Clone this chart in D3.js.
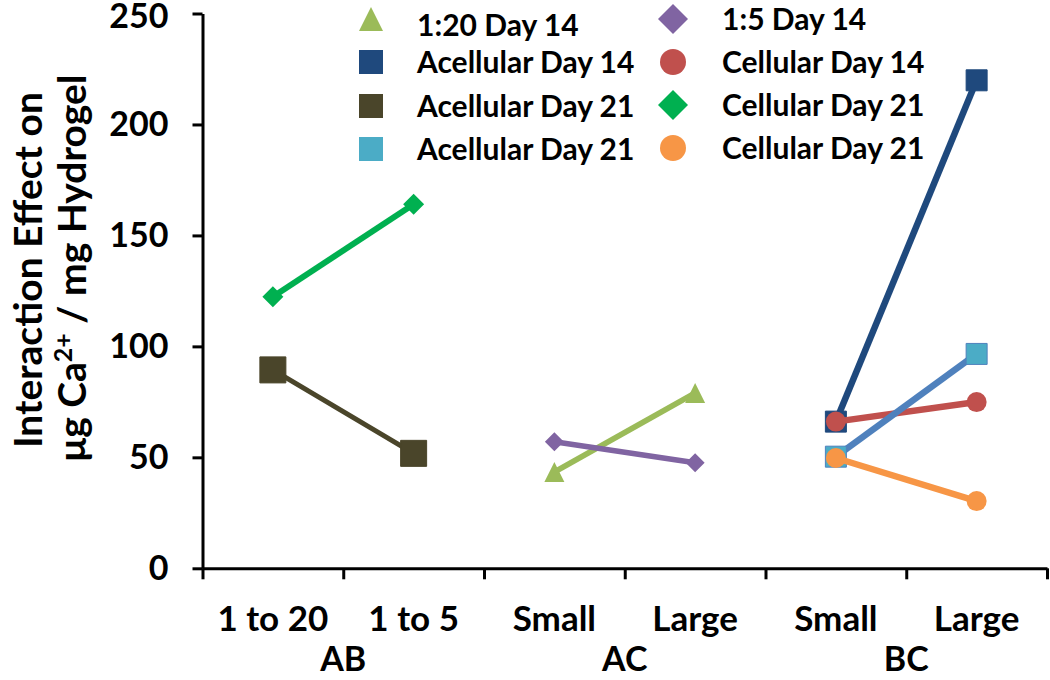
<!DOCTYPE html>
<html>
<head>
<meta charset="utf-8">
<script src="https://cdn.jsdelivr.net/npm/d3@7"></script>
<style>
  html, body { margin: 0; padding: 0; background: #fff; }
  svg { display: block; font-family: Lato, "Open Sans", sans-serif; font-weight: bold; }
</style>
</head>
<body>
<svg id="chart" width="1050" height="680"></svg>
<script>
// ---------- data ----------
const categories = ["1 to 20", "1 to 5", "Small", "Large", "Small", "Large"];
const groups = ["AB", "AC", "BC"];
const yTicks = [0, 50, 100, 150, 200, 250];

const seriesNames = [
  "1:20 Day 14", "1:5 Day 14", "Acellular Day 14", "Cellular Day 14",
  "Acellular Day 21", "Cellular Day 21", "Acellular Day 21", "Cellular Day 21"
];
// category index pairs for each series
const seriesCats = [[2, 3], [2, 3], [4, 5], [4, 5], [0, 1], [0, 1], [4, 5], [4, 5]];
const v_1to20Day14      = [43.4, 79.0];
const v_1to5Day14       = [57.0, 47.6];
const v_acellularDay14  = [66.1, 219.9];
const v_cellularDay14   = [66.1, 74.9];
const v_acellularDay21a = [89.4, 51.8];
const v_cellularDay21a  = [122.4, 164.0];
const v_acellularDay21b = [50.3, 96.6];
const v_cellularDay21b  = [49.7, 30.3];
const seriesValues = [v_1to20Day14, v_1to5Day14, v_acellularDay14, v_cellularDay14,
                      v_acellularDay21a, v_cellularDay21a, v_acellularDay21b, v_cellularDay21b];

// ---------- styles ----------
const styles = [
  { line: "#9BBB59", fill: "#9BBB59", shape: "triangle", size: 20, lw: 5.5 },
  { line: "#8064A2", fill: "#8064A2", shape: "diamond",  size: 19, lw: 5.5 },
  { line: "#1F497D", fill: "#1F497D", shape: "square",   size: 21, lw: 6.5 },
  { line: "#C0504D", fill: "#C0504D", shape: "circle",   size: 20, lw: 6.5 },
  { line: "#4A452A", fill: "#4A452A", shape: "square",   size: 26, lw: 5 },
  { line: "#00B050", fill: "#00B050", shape: "diamond",  size: 21, lw: 6 },
  { line: "#4F81BD", fill: "#4BACC6", shape: "square",   size: 21, lw: 6.5 },
  { line: "#F79646", fill: "#F79646", shape: "circle",   size: 20, lw: 6.5 }
];
// legend: [seriesIndex, column, row]
const legendItems = [[0, 0, 0], [2, 0, 1], [4, 0, 2], [6, 0, 3], [1, 1, 0], [3, 1, 1], [5, 1, 2], [7, 1, 3]];

// ---------- layout ----------
const svg = d3.select("#chart");
const X0 = 202.5, X1 = 1047, Y0 = 568.3, Y1 = 13.5;

const y = d3.scaleLinear().domain([0, 250]).range([Y0, Y1]);
const xEdge = d3.scaleLinear().domain([0, categories.length]).range([X0, X1]);
const xBand = d3.scaleBand().domain(d3.range(categories.length)).range([X0, X1]).padding(0);
const xGroup = d3.scaleLinear().domain([0, groups.length]).range([X0, X1]);
const cx = i => xBand(i) + xBand.bandwidth() / 2;

function markerPath(shape, size) {
  const h = size / 2;
  if (shape === "square") return `M${-h},${-h}H${h}V${h}H${-h}Z`;
  if (shape === "diamond") return `M0,${-h}L${h},0L0,${h}L${-h},0Z`;
  if (shape === "triangle") return `M0,${-h}L${h},${h}L${-h},${h}Z`;
  return d3.arc()({ innerRadius: 0, outerRadius: h, startAngle: 0, endAngle: 2 * Math.PI });
}

// y axis
const yAxis = svg.append("g")
  .attr("transform", `translate(${X0},0)`)
  .call(d3.axisLeft(y).tickValues(yTicks).tickSize(10).tickSizeOuter(0).tickPadding(24));
yAxis.select(".domain").attr("stroke", "#000").attr("stroke-width", 3);
yAxis.selectAll(".tick line").attr("stroke", "#000").attr("stroke-width", 3);
yAxis.selectAll(".tick text").attr("font-size", 34).attr("font-family", "Lato").attr("font-weight", "bold").attr("fill", "#000")
  .attr("dy", (d) => d === 250 ? "0.42em" : "0.32em");

// x axis (ticks at category edges)
const xAxis = svg.append("g")
  .attr("transform", `translate(0,${Y0})`)
  .call(d3.axisBottom(xEdge).tickValues(d3.range(categories.length + 1)).tickFormat("").tickSize(11).tickSizeOuter(0));
xAxis.select(".domain").attr("stroke", "#000").attr("stroke-width", 3);
xAxis.selectAll(".tick line").attr("stroke", "#000").attr("stroke-width", 3);

// category labels
svg.append("g")
  .attr("transform", `translate(0,${Y0})`)
  .call(d3.axisBottom(xBand).tickFormat(i => categories[i]).tickSize(0).tickPadding(38))
  .call(g => g.select(".domain").remove())
  .selectAll("text")
  .attr("font-size", 35).attr("font-family", "Lato").attr("font-weight", "bold").attr("fill", "#000");

// group labels
svg.append("g").selectAll("text").data(groups).join("text")
  .attr("x", (d, i) => xGroup(i + 0.5))
  .attr("y", 671)
  .attr("text-anchor", "middle")
  .attr("font-size", 34)
  .text(d => d);

// y title
const yt = svg.append("g").attr("font-size", 39).attr("text-anchor", "middle");
yt.append("text").attr("transform", "translate(42,270) rotate(-90)").text("Interaction Effect on");
const t2 = yt.append("text").attr("transform", "translate(86,268) rotate(-90)");
t2.append("tspan").text("μg Ca");
t2.append("tspan").attr("font-size", 25).attr("dy", -14).text("2+");
t2.append("tspan").attr("dy", 14).text(" / mg Hydrogel");

// series
const line = d3.line().x(d => cx(d[0])).y(d => y(d[1]));
seriesValues.forEach((vals, s) => {
  const st = styles[s];
  const pts = vals.map((v, k) => [seriesCats[s][k], v]);
  const g = svg.append("g");
  g.append("path").datum(pts).attr("d", line)
    .attr("fill", "none").attr("stroke", st.line).attr("stroke-width", st.lw);
  g.selectAll("path.m").data(pts).join("path").attr("class", "m")
    .attr("transform", d => `translate(${cx(d[0])},${y(d[1])})`)
    .attr("d", markerPath(st.shape, st.size))
    .attr("fill", st.fill)
    .attr("stroke", st.shape === "square" ? st.line : "none")
    .attr("stroke-width", 1)
    .attr("stroke-linejoin", "round");
});

// legend
const legMarkerX = [371, 673], legTextX = [417, 722];
const legRowY = [[19, 62, 106, 149], [19, 62, 105, 148]];
const legSizes = { triangle: 24, square: 24, diamond: 30, circle: 26 };
const leg = svg.append("g");
legendItems.forEach(([s, c, r]) => {
  const st = styles[s];
  leg.append("path")
    .attr("transform", `translate(${legMarkerX[c]},${legRowY[c][r]})`)
    .attr("d", markerPath(st.shape, legSizes[st.shape]))
    .attr("fill", st.fill);
  leg.append("text")
    .attr("x", legTextX[c]).attr("y", legRowY[c][r] + (c === 0 && r === 0 ? 6 : 0))
    .attr("dy", "0.36em")
    .attr("font-size", 30)
    .text(seriesNames[s]);
});
</script>
</body>
</html>
